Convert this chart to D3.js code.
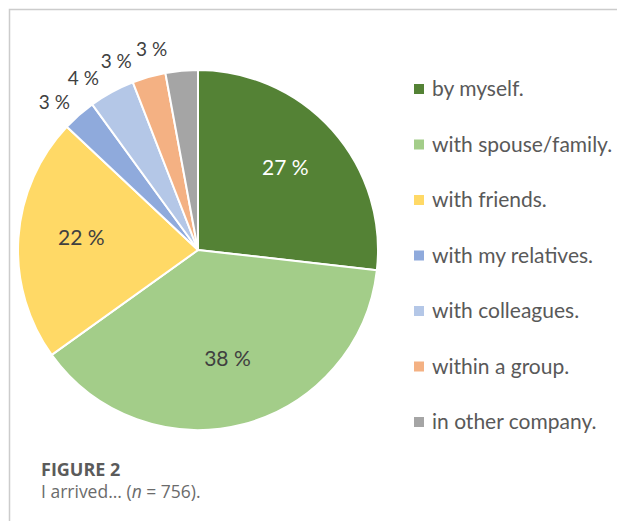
<!DOCTYPE html>
<html>
<head>
<meta charset="utf-8">
<script src="https://cdn.jsdelivr.net/npm/d3@7"></script>
<style>
  body { margin: 0; background: #fff; }
  svg { display: block; }
</style>
</head>
<body>
<div id="grafica"></div>
<script>
// Datos (porcentaje de cada forma de llegada)
const categorias = ["by myself.", "with spouse/family.", "with friends.", "with my relatives.", "with colleagues.", "within a group.", "in other company."];
const valores = [26.8, 38.3, 21.9, 3.0, 4.1, 3.0, 2.9];
const colores = ["#548235", "#a3cd89", "#ffd966", "#8faadc", "#b4c7e7", "#f4b183", "#a5a5a5"];
const etiquetasDentro = [true, true, true, false, false, false, false];
const tituloFigura = "FIGURE 2";

const width = 617;
const height = 521;
const cx = 198, cy = 250, radio = 180;

const svg = d3.select("#grafica")
    .append("svg")
    .attr("width", width)
    .attr("height", height);

// Marco gris (arriba e izquierda)
svg.append("path")
    .attr("d", `M9.5,${height} V9.5 H${width}`)
    .attr("fill", "none")
    .attr("stroke", "#cccccc")
    .attr("stroke-width", 1.5);

const datos = categorias.map((c, i) => ({ categoria: c, valor: valores[i], color: colores[i], dentro: etiquetasDentro[i] }));

const pie = d3.pie().sort(null).value(d => d.valor);
const arcos = pie(datos);

const arc = d3.arc().innerRadius(0).outerRadius(radio);
const arcEtiqueta = d3.arc().innerRadius(radio * 0.65).outerRadius(radio * 0.65);

const g = svg.append("g").attr("transform", `translate(${cx},${cy})`);

g.selectAll("path.slice")
    .data(arcos)
    .enter()
    .append("path")
    .attr("class", "slice")
    .attr("d", arc)
    .attr("fill", d => d.data.color)
    .attr("stroke", "#fff")
    .attr("stroke-width", 2)
    .attr("stroke-linejoin", "round");

// Etiquetas dentro de los sectores grandes
g.selectAll("text.dentro")
    .data(arcos.filter(d => d.data.dentro))
    .enter()
    .append("text")
    .attr("class", "dentro")
    .attr("transform", d => `translate(${arcEtiqueta.centroid(d)})`)
    .attr("text-anchor", "middle")
    .attr("dy", "0.15em")
    .style("font-family", "Lato, 'Open Sans', sans-serif")
    .style("font-size", "21px")
    .attr("fill", (d, i) => i === 0 ? "#ffffff" : "#404040")
    .text(d => `${Math.round(d.data.valor)} %`);

// Etiquetas fuera: se reparten sobre un circulo evitando solaparse
const fuera = arcos.filter(d => !d.data.dentro).map(d => ({ d, ang: (d.startAngle + d.endAngle) / 2 }));
const angMax = 347 * Math.PI / 180;
const sepMin = 10.4 * Math.PI / 180;
for (let i = fuera.length - 1; i >= 0; i--) {
    const limite = i === fuera.length - 1 ? angMax : fuera[i + 1].ang - sepMin;
    fuera[i].ang = Math.min(fuera[i].ang, limite);
}
const rFuera = radio + 26;

g.selectAll("text.fuera")
    .data(fuera)
    .enter()
    .append("text")
    .attr("class", "fuera")
    .attr("x", d => rFuera * Math.sin(d.ang))
    .attr("y", d => -rFuera * Math.cos(d.ang))
    .attr("text-anchor", "middle")
    .attr("dy", "0.35em")
    .style("font-family", "Lato, 'Open Sans', sans-serif")
    .style("font-size", "19px")
    .attr("fill", "#404040")
    .text(d => `${Math.round(d.d.data.valor)} %`);

// Leyenda
const y = d3.scalePoint()
    .domain(categorias)
    .range([89, 422]);

const leyenda = svg.append("g")
    .selectAll("g")
    .data(datos)
    .enter()
    .append("g")
    .attr("transform", d => `translate(414,${y(d.categoria)})`);

leyenda.append("rect")
    .attr("x", 0)
    .attr("y", -5)
    .attr("width", 10)
    .attr("height", 10)
    .attr("fill", d => d.color);

leyenda.append("text")
    .attr("x", 18)
    .attr("dy", "0.35em")
    .style("font-family", "Lato, 'Open Sans', sans-serif")
    .style("font-size", "21px")
    .attr("fill", "#595959")
    .text(d => d.categoria);

// Pie de figura
svg.append("text")
    .attr("x", 41)
    .attr("y", 476)
    .style("font-family", "'Open Sans', sans-serif")
    .style("font-size", "18px")
    .style("font-weight", "bold")
    .attr("fill", "#5b5b5b")
    .text(tituloFigura);

const pieTexto = svg.append("text")
    .attr("x", 41)
    .attr("y", 498)
    .style("font-family", "'Open Sans', sans-serif")
    .style("font-size", "17.5px")
    .attr("fill", "#6b6b6b");
pieTexto.append("tspan").text("I arrived... (");
pieTexto.append("tspan").style("font-style", "italic").text("n");
pieTexto.append("tspan").text(" = 756).");
</script>
</body>
</html>
